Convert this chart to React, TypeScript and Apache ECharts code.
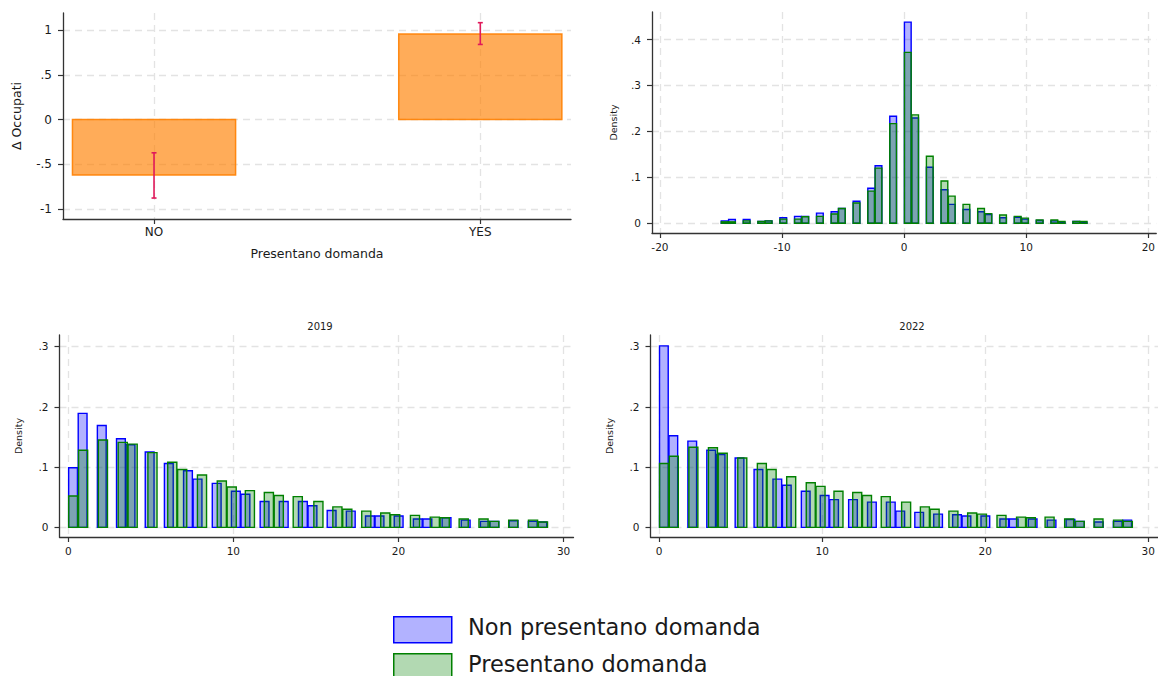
import React, { useEffect, useRef } from "react";
import * as echarts from "echarts";

const groupNon = "Non presentano domanda";
const groupPres = "Presentano domanda";

// Top-left: mean change in employment by group, with confidence interval
const catLabels = ["NO", "YES"];
const catPos = [0, 1];
const deltaMean = [-0.62, 0.955];
const deltaLow = [-0.876, 0.839];
const deltaHigh = [-0.371, 1.082];

// Top-right histogram (bin width 0.6), bin centres
const diffBins = [-14.7, -14.1, -12.9, -11.7, -11.1, -9.9, -8.7, -8.1, -6.9, -5.7, -5.1, -3.9, -2.7, -2.1, -0.9, 0.3, 0.9, 2.1, 3.3, 3.9, 5.1, 6.3, 6.9, 8.1, 9.3, 9.9, 11.1, 12.3, 12.9, 14.1, 14.7];
const diffNon = [0.005, 0.008, 0.008, 0.004, 0.005, 0.012, 0.015, 0.015, 0.022, 0.025, 0.032, 0.048, 0.076, 0.125, 0.233, 0.438, 0.229, 0.122, 0.073, 0.041, 0.030, 0.025, 0.019, 0.012, 0.013, 0.009, 0.006, 0.005, 0.002, 0.004, 0.002];
const diffPres = [0.003, 0.003, 0.005, 0.004, 0.005, 0.009, 0.009, 0.014, 0.015, 0.020, 0.032, 0.044, 0.070, 0.120, 0.217, 0.372, 0.236, 0.146, 0.092, 0.059, 0.041, 0.032, 0.021, 0.018, 0.015, 0.011, 0.007, 0.007, 0.004, 0.004, 0.004];
const diffBinWidth = 0.6;

// Bottom histograms: bin centres
const binsNon = [0.29, 0.87, 2.03, 3.19, 3.77, 4.93, 6.09, 7.25, 7.83, 8.99, 10.15, 10.73, 11.89, 13.05, 14.21, 14.79, 15.95, 17.11, 18.27, 18.85, 20.01, 21.17, 21.75, 22.91, 24.07, 25.23, 25.81, 26.97, 28.13, 28.71];
const binsPres = [0.3, 0.9, 2.1, 3.3, 3.9, 5.1, 6.3, 6.9, 8.1, 9.3, 9.9, 11.0, 12.15, 12.75, 13.9, 15.15, 16.3, 16.9, 18.05, 19.2, 19.8, 21.0, 22.2, 22.8, 23.95, 25.15, 25.8, 26.95, 28.15, 28.75];
const binWidthNon = 0.58;
const binWidthPres = 0.6;

const y2019Non = [0.099, 0.189, 0.169, 0.147, 0.137, 0.125, 0.106, 0.094, 0.080, 0.073, 0.060, 0.055, 0.043, 0.043, 0.043, 0.036, 0.028, 0.027, 0.019, 0.019, 0.019, 0.014, 0.014, 0.016, 0.012, 0.010, 0.010, 0.011, 0.010, 0.009];
const y2019Pres = [0.052, 0.128, 0.145, 0.141, 0.138, 0.124, 0.108, 0.096, 0.087, 0.077, 0.067, 0.061, 0.058, 0.053, 0.051, 0.043, 0.034, 0.030, 0.027, 0.024, 0.021, 0.020, 0.017, 0.016, 0.014, 0.014, 0.010, 0.012, 0.012, 0.009];
const y2022Non = [0.301, 0.152, 0.143, 0.128, 0.121, 0.115, 0.096, 0.080, 0.070, 0.060, 0.053, 0.046, 0.046, 0.042, 0.042, 0.027, 0.025, 0.022, 0.021, 0.019, 0.019, 0.014, 0.014, 0.014, 0.012, 0.013, 0.010, 0.009, 0.010, 0.012];
const y2022Pres = [0.106, 0.118, 0.133, 0.132, 0.123, 0.115, 0.106, 0.096, 0.084, 0.074, 0.068, 0.060, 0.058, 0.053, 0.051, 0.042, 0.034, 0.030, 0.027, 0.024, 0.022, 0.020, 0.017, 0.016, 0.017, 0.014, 0.010, 0.014, 0.012, 0.010];

const diffTicksX = [-20, -10, 0, 10, 20];
const diffTicksY = [0, 0.1, 0.2, 0.3, 0.4];
const deltaTicksY = [-1, -0.5, 0, 0.5, 1];
const countTicksX = [0, 10, 20, 30];
const countTicksY = [0, 0.1, 0.2, 0.3];
const panelTitles = ["2019", "2022"];

const FONT = "DejaVu Sans";
const TXT = "#1a1a1a";
const AXIS = "#333333";
const GRIDC = "#e3e3e3";
const BLUE_FILL = "rgba(0,0,255,0.3)";
const BLUE_LINE = "#0000ff";
const GREEN_FILL = "rgba(0,128,0,0.3)";
const GREEN_LINE = "#008000";

const stataNum = (v: number) => {
  if (v === 0) return "0";
  const s = String(Math.round(v * 1000) / 1000);
  return s.replace(/^0\./, ".").replace(/^-0\./, "-.");
};

function makeAxis(gridIndex: number, min: number, max: number, ticks: number[], fontSize: number, margin: number, formatter: any, extra: any = {}) {
  return {
    type: "value",
    gridIndex,
    min,
    max,
    axisLine: { show: true, onZero: false, lineStyle: { color: AXIS, width: 1.3 } },
    axisTick: { show: true, inside: false, length: 5, customValues: ticks, lineStyle: { color: AXIS, width: 1.2 } },
    axisLabel: { customValues: ticks, formatter, fontSize, color: TXT, margin, fontFamily: FONT },
    splitLine: { show: true, lineStyle: { color: GRIDC, width: 1.3, type: [7, 5] } },
    ...extra,
  };
}

function histSeries(name: string, gi: number, xs: number[], ys: number[], width: number, fill: string, stroke: string, z: number) {
  return {
    type: "custom",
    name,
    xAxisIndex: gi,
    yAxisIndex: gi,
    z,
    silent: true,
    data: xs.map((x, i) => [x, ys[i]]),
    encode: { x: 0, y: 1 },
    renderItem: (params: any, api: any) => {
      const x = api.value(0);
      const y = api.value(1);
      const a = api.coord([x - width * 0.46, y]);
      const b = api.coord([x + width * 0.46, 0]);
      return {
        type: "rect",
        shape: { x: a[0], y: Math.min(a[1], b[1]), width: b[0] - a[0], height: Math.abs(b[1] - a[1]) },
        style: { fill, stroke, lineWidth: 1.4 },
      };
    },
  };
}

export default function App() {
  const ref = useRef<HTMLDivElement>(null);
  useEffect(() => {
    if (!ref.current) return;
    const chart = echarts.init(ref.current, undefined, { renderer: "svg" });
    const option: any = {
      animation: false,
      backgroundColor: "#ffffff",
      textStyle: { fontFamily: FONT, color: TXT },
      title: [
        { text: panelTitles[0], left: 315, top: 316, textAlign: "center", textStyle: { fontSize: 10, fontWeight: "normal", color: TXT, fontFamily: FONT } },
        { text: panelTitles[1], left: 907, top: 316, textAlign: "center", textStyle: { fontSize: 10, fontWeight: "normal", color: TXT, fontFamily: FONT } },
      ],
      grid: [
        { left: 63, top: 13, width: 508, height: 206 },
        { left: 652, top: 12, width: 510, height: 221 },
        { left: 59.5, top: 335, width: 514, height: 202 },
        { left: 650.5, top: 335, width: 514, height: 202 },
      ],
      xAxis: [
        makeAxis(0, -0.279, 1.278, catPos, 12, 7, (v: number) => catLabels[catPos.indexOf(v)] ?? "", {
          name: "Presentano domanda", nameLocation: "middle", nameGap: 28,
          nameTextStyle: { fontSize: 12.5, color: TXT, fontFamily: FONT },
        }),
        makeAxis(1, -20.65, 20.65, diffTicksX, 10.5, 8, stataNum),
        makeAxis(2, -0.53, 30.6, countTicksX, 10.5, 8, stataNum),
        makeAxis(3, -0.53, 30.6, countTicksX, 10.5, 8, stataNum),
      ],
      yAxis: [
        makeAxis(0, -1.11, 1.19, deltaTicksY, 12, 11, stataNum, {
          name: "Δ Occupati", nameLocation: "middle", nameGap: 40, nameRotate: 90,
          nameTextStyle: { fontSize: 12.5, color: TXT, fontFamily: FONT },
        }),
        makeAxis(1, -0.0213, 0.46, diffTicksY, 10.5, 11, stataNum, {
          name: "Density", nameLocation: "middle", nameGap: 34, nameRotate: 90,
          nameTextStyle: { fontSize: 9.5, color: TXT, fontFamily: FONT },
        }),
        makeAxis(2, -0.0159, 0.319, countTicksY, 10.5, 11, stataNum, {
          name: "Density", nameLocation: "middle", nameGap: 36, nameRotate: 90,
          nameTextStyle: { fontSize: 9.5, color: TXT, fontFamily: FONT },
        }),
        makeAxis(3, -0.0159, 0.319, countTicksY, 10.5, 11, stataNum, {
          name: "Density", nameLocation: "middle", nameGap: 36, nameRotate: 90,
          nameTextStyle: { fontSize: 9.5, color: TXT, fontFamily: FONT },
        }),
      ],
      series: [
        {
          type: "custom",
          name: "Δ Occupati",
          xAxisIndex: 0,
          yAxisIndex: 0,
          silent: true,
          data: catPos.map((x, i) => [x, deltaMean[i]]),
          encode: { x: 0, y: 1 },
          renderItem: (params: any, api: any) => {
            const x = api.value(0);
            const y = api.value(1);
            const a = api.coord([x - 0.25, y]);
            const b = api.coord([x + 0.25, 0]);
            return {
              type: "rect",
              shape: { x: a[0], y: Math.min(a[1], b[1]), width: b[0] - a[0], height: Math.abs(b[1] - a[1]) },
              style: { fill: "rgba(255,127,0,0.65)", stroke: "rgba(255,127,0,0.9)", lineWidth: 1.5 },
            };
          },
        },
        {
          type: "custom",
          name: "CI",
          xAxisIndex: 0,
          yAxisIndex: 0,
          silent: true,
          z: 5,
          data: catPos.map((x, i) => [x, deltaLow[i], deltaHigh[i]]),
          encode: { x: 0, y: [1, 2] },
          renderItem: (params: any, api: any) => {
            const x = api.value(0);
            const lo = api.coord([x, api.value(1)]);
            const hi = api.coord([x, api.value(2)]);
            const st = { stroke: "#e0195a", lineWidth: 1.6 };
            return {
              type: "group",
              children: [
                { type: "line", shape: { x1: lo[0], y1: lo[1], x2: hi[0], y2: hi[1] }, style: st },
                { type: "line", shape: { x1: lo[0] - 2.5, y1: lo[1], x2: lo[0] + 2.5, y2: lo[1] }, style: st },
                { type: "line", shape: { x1: hi[0] - 2.5, y1: hi[1], x2: hi[0] + 2.5, y2: hi[1] }, style: st },
              ],
            };
          },
        },
        histSeries(groupNon, 1, diffBins, diffNon, diffBinWidth, BLUE_FILL, BLUE_LINE, 2),
        histSeries(groupPres, 1, diffBins, diffPres, diffBinWidth, GREEN_FILL, GREEN_LINE, 3),
        histSeries(groupNon, 2, binsNon, y2019Non, binWidthNon, BLUE_FILL, BLUE_LINE, 2),
        histSeries(groupPres, 2, binsPres, y2019Pres, binWidthPres, GREEN_FILL, GREEN_LINE, 3),
        histSeries(groupNon, 3, binsNon, y2022Non, binWidthNon, BLUE_FILL, BLUE_LINE, 2),
        histSeries(groupPres, 3, binsPres, y2022Pres, binWidthPres, GREEN_FILL, GREEN_LINE, 3),
      ],
      graphic: [
        { type: "rect", left: 393, top: 616, shape: { width: 58, height: 26 }, style: { fill: BLUE_FILL, stroke: BLUE_LINE, lineWidth: 1.5 } },
        { type: "text", left: 468, top: 615, style: { text: groupNon, fontSize: 22.5, fontFamily: FONT, fill: TXT } },
        { type: "rect", left: 393, top: 653, shape: { width: 58, height: 26 }, style: { fill: GREEN_FILL, stroke: GREEN_LINE, lineWidth: 1.5 } },
        { type: "text", left: 468, top: 652, style: { text: groupPres, fontSize: 22.5, fontFamily: FONT, fill: TXT } },
      ],
    };
    chart.setOption(option);
    return () => chart.dispose();
  }, []);
  return <div ref={ref} style={{ position: "absolute", left: 0, top: 0, width: 1158, height: 676, background: "#fff" }} />;
}
